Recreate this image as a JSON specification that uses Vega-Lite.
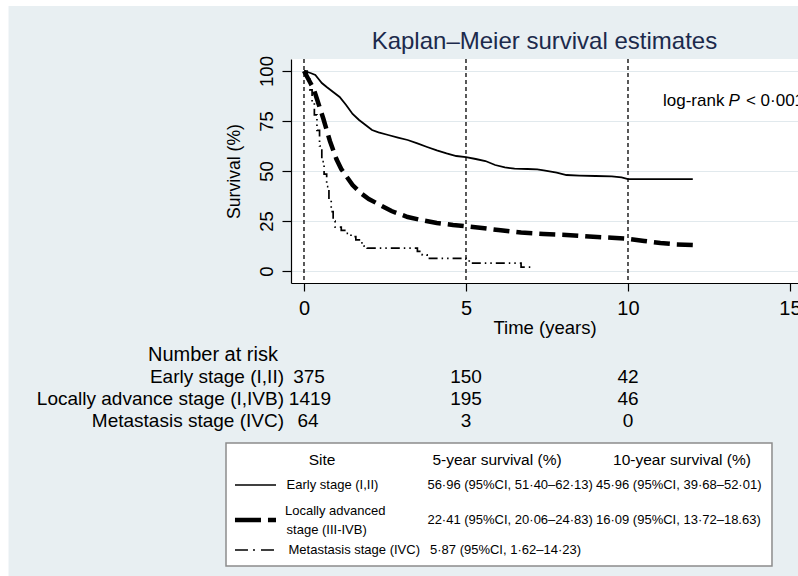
{
  "$schema": "https://vega.github.io/schema/vega-lite/v6.json",
  "width": 507,
  "height": 224,
  "autosize": {"type": "none"},
  "padding": {"left": 291, "top": 59, "right": 0, "bottom": 293},
  "background": "#e8eff2",
  "config": {
    "view": {"fill": "white", "stroke": null},
    "font": "Liberation Sans",
    "text": {"font": "Liberation Sans", "color": "black"}
  },
  "datasets": {
    "km": [
      {"stage": "Early stage (I,II)", "t": 0, "s": 100},
      {"stage": "Early stage (I,II)", "t": 0.1, "s": 99.5},
      {"stage": "Early stage (I,II)", "t": 0.2, "s": 99},
      {"stage": "Early stage (I,II)", "t": 0.35, "s": 98},
      {"stage": "Early stage (I,II)", "t": 0.45, "s": 96},
      {"stage": "Early stage (I,II)", "t": 0.55, "s": 94},
      {"stage": "Early stage (I,II)", "t": 0.7, "s": 92},
      {"stage": "Early stage (I,II)", "t": 0.9, "s": 89.5},
      {"stage": "Early stage (I,II)", "t": 1.1, "s": 87},
      {"stage": "Early stage (I,II)", "t": 1.3, "s": 83},
      {"stage": "Early stage (I,II)", "t": 1.5, "s": 78.5},
      {"stage": "Early stage (I,II)", "t": 1.7, "s": 75.5},
      {"stage": "Early stage (I,II)", "t": 1.9, "s": 73},
      {"stage": "Early stage (I,II)", "t": 2.1, "s": 70.5},
      {"stage": "Early stage (I,II)", "t": 2.3, "s": 69.3},
      {"stage": "Early stage (I,II)", "t": 2.6, "s": 68},
      {"stage": "Early stage (I,II)", "t": 2.9, "s": 66.7},
      {"stage": "Early stage (I,II)", "t": 3.2, "s": 65.5},
      {"stage": "Early stage (I,II)", "t": 3.5, "s": 63.8},
      {"stage": "Early stage (I,II)", "t": 3.8, "s": 62},
      {"stage": "Early stage (I,II)", "t": 4.1, "s": 60.3},
      {"stage": "Early stage (I,II)", "t": 4.4, "s": 58.8},
      {"stage": "Early stage (I,II)", "t": 4.7, "s": 57.5},
      {"stage": "Early stage (I,II)", "t": 5.0, "s": 56.96},
      {"stage": "Early stage (I,II)", "t": 5.3, "s": 56},
      {"stage": "Early stage (I,II)", "t": 5.6, "s": 55},
      {"stage": "Early stage (I,II)", "t": 5.9, "s": 53},
      {"stage": "Early stage (I,II)", "t": 6.2, "s": 51.8},
      {"stage": "Early stage (I,II)", "t": 6.5, "s": 51.2},
      {"stage": "Early stage (I,II)", "t": 6.9, "s": 51},
      {"stage": "Early stage (I,II)", "t": 7.2, "s": 50.8},
      {"stage": "Early stage (I,II)", "t": 7.4, "s": 50.3},
      {"stage": "Early stage (I,II)", "t": 7.8, "s": 49.2},
      {"stage": "Early stage (I,II)", "t": 8.1, "s": 48},
      {"stage": "Early stage (I,II)", "t": 8.5, "s": 47.7},
      {"stage": "Early stage (I,II)", "t": 9.0, "s": 47.5},
      {"stage": "Early stage (I,II)", "t": 9.5, "s": 47.3},
      {"stage": "Early stage (I,II)", "t": 9.8, "s": 46.8},
      {"stage": "Early stage (I,II)", "t": 10.0, "s": 45.96},
      {"stage": "Early stage (I,II)", "t": 11.0, "s": 45.96},
      {"stage": "Early stage (I,II)", "t": 12.0, "s": 45.96},
      {"stage": "Locally advanced stage (III-IVB)", "t": 0, "s": 100},
      {"stage": "Locally advanced stage (III-IVB)", "t": 0.1, "s": 97},
      {"stage": "Locally advanced stage (III-IVB)", "t": 0.2, "s": 94},
      {"stage": "Locally advanced stage (III-IVB)", "t": 0.3, "s": 91},
      {"stage": "Locally advanced stage (III-IVB)", "t": 0.4, "s": 86},
      {"stage": "Locally advanced stage (III-IVB)", "t": 0.5, "s": 81},
      {"stage": "Locally advanced stage (III-IVB)", "t": 0.6, "s": 76},
      {"stage": "Locally advanced stage (III-IVB)", "t": 0.7, "s": 70.5},
      {"stage": "Locally advanced stage (III-IVB)", "t": 0.8, "s": 65},
      {"stage": "Locally advanced stage (III-IVB)", "t": 0.9, "s": 60.5},
      {"stage": "Locally advanced stage (III-IVB)", "t": 1.0, "s": 56},
      {"stage": "Locally advanced stage (III-IVB)", "t": 1.15, "s": 51},
      {"stage": "Locally advanced stage (III-IVB)", "t": 1.3, "s": 47.5},
      {"stage": "Locally advanced stage (III-IVB)", "t": 1.5, "s": 43},
      {"stage": "Locally advanced stage (III-IVB)", "t": 1.75, "s": 39},
      {"stage": "Locally advanced stage (III-IVB)", "t": 2.0, "s": 36},
      {"stage": "Locally advanced stage (III-IVB)", "t": 2.35, "s": 33},
      {"stage": "Locally advanced stage (III-IVB)", "t": 2.7, "s": 30},
      {"stage": "Locally advanced stage (III-IVB)", "t": 3.2, "s": 27},
      {"stage": "Locally advanced stage (III-IVB)", "t": 3.7, "s": 25.2},
      {"stage": "Locally advanced stage (III-IVB)", "t": 4.1, "s": 24},
      {"stage": "Locally advanced stage (III-IVB)", "t": 4.6, "s": 23},
      {"stage": "Locally advanced stage (III-IVB)", "t": 5.0, "s": 22.41},
      {"stage": "Locally advanced stage (III-IVB)", "t": 5.5, "s": 21.5},
      {"stage": "Locally advanced stage (III-IVB)", "t": 6.0, "s": 20.5},
      {"stage": "Locally advanced stage (III-IVB)", "t": 6.7, "s": 19.2},
      {"stage": "Locally advanced stage (III-IVB)", "t": 7.4, "s": 18.5},
      {"stage": "Locally advanced stage (III-IVB)", "t": 8.1, "s": 18},
      {"stage": "Locally advanced stage (III-IVB)", "t": 8.8, "s": 17.2},
      {"stage": "Locally advanced stage (III-IVB)", "t": 9.5, "s": 16.6},
      {"stage": "Locally advanced stage (III-IVB)", "t": 10.0, "s": 16.09},
      {"stage": "Locally advanced stage (III-IVB)", "t": 10.5, "s": 15},
      {"stage": "Locally advanced stage (III-IVB)", "t": 11.0, "s": 14},
      {"stage": "Locally advanced stage (III-IVB)", "t": 11.5, "s": 13.3},
      {"stage": "Locally advanced stage (III-IVB)", "t": 12.0, "s": 13},
      {"stage": "Metastasis stage (IVC)", "t": 0, "s": 100},
      {"stage": "Metastasis stage (IVC)", "t": 0.1, "s": 96.9},
      {"stage": "Metastasis stage (IVC)", "t": 0.18, "s": 90.6},
      {"stage": "Metastasis stage (IVC)", "t": 0.25, "s": 84.4},
      {"stage": "Metastasis stage (IVC)", "t": 0.32, "s": 78.1},
      {"stage": "Metastasis stage (IVC)", "t": 0.4, "s": 70.3},
      {"stage": "Metastasis stage (IVC)", "t": 0.48, "s": 62.5},
      {"stage": "Metastasis stage (IVC)", "t": 0.55, "s": 54.7},
      {"stage": "Metastasis stage (IVC)", "t": 0.62, "s": 48.4},
      {"stage": "Metastasis stage (IVC)", "t": 0.7, "s": 42.2},
      {"stage": "Metastasis stage (IVC)", "t": 0.77, "s": 35.9},
      {"stage": "Metastasis stage (IVC)", "t": 0.84, "s": 29.7},
      {"stage": "Metastasis stage (IVC)", "t": 0.9, "s": 25},
      {"stage": "Metastasis stage (IVC)", "t": 0.96, "s": 21.9},
      {"stage": "Metastasis stage (IVC)", "t": 1.15, "s": 20.3},
      {"stage": "Metastasis stage (IVC)", "t": 1.3, "s": 18.8},
      {"stage": "Metastasis stage (IVC)", "t": 1.45, "s": 17.2},
      {"stage": "Metastasis stage (IVC)", "t": 1.6, "s": 15.6},
      {"stage": "Metastasis stage (IVC)", "t": 1.75, "s": 14.1},
      {"stage": "Metastasis stage (IVC)", "t": 1.85, "s": 12.5},
      {"stage": "Metastasis stage (IVC)", "t": 1.95, "s": 11.4},
      {"stage": "Metastasis stage (IVC)", "t": 3.5, "s": 9.8},
      {"stage": "Metastasis stage (IVC)", "t": 3.65, "s": 8.1},
      {"stage": "Metastasis stage (IVC)", "t": 3.8, "s": 6.3},
      {"stage": "Metastasis stage (IVC)", "t": 5.0, "s": 5.87},
      {"stage": "Metastasis stage (IVC)", "t": 5.1, "s": 3.9},
      {"stage": "Metastasis stage (IVC)", "t": 6.7, "s": 1.9},
      {"stage": "Metastasis stage (IVC)", "t": 7.1, "s": 1.9}
    ],
    "atrisk": [
      {"stage": "Early stage (I,II)", "t": 0, "n": 375},
      {"stage": "Early stage (I,II)", "t": 5, "n": 150},
      {"stage": "Early stage (I,II)", "t": 10, "n": 42},
      {"stage": "Locally advance stage (I,IVB)", "t": 0, "n": 1419},
      {"stage": "Locally advance stage (I,IVB)", "t": 5, "n": 195},
      {"stage": "Locally advance stage (I,IVB)", "t": 10, "n": 46},
      {"stage": "Metastasis stage (IVC)", "t": 0, "n": 64},
      {"stage": "Metastasis stage (IVC)", "t": 5, "n": 3},
      {"stage": "Metastasis stage (IVC)", "t": 10, "n": 0}
    ],
    "surv": [
      {"stage": "Early stage (I,II)", "y5": "56·96 (95%CI, 51·40–62·13)", "y10": "45·96 (95%CI, 39·68–52·01)"},
      {"stage": "Locally advanced stage (III-IVB)", "y5": "22·41 (95%CI, 20·06–24·83)", "y10": "16·09 (95%CI, 13·72–18.63)"},
      {"stage": "Metastasis stage (IVC)", "y5": "5·87 (95%CI, 1·62–14·23)", "y10": ""}
    ]
  },
  "data": {"values": [{}]},
  "layer": [
    {
      "data": {"name": "km"},
      "transform": [{"filter": "datum.stage == 'Early stage (I,II)'"}],
      "mark": {"type": "line", "color": "black", "strokeWidth": 1.8},
      "encoding": {
        "x": {
          "field": "t", "type": "quantitative",
          "scale": {"domain": [-0.401, 15.247], "nice": false, "zero": false},
          "axis": {
            "values": [0, 5, 10, 15], "title": "Time (years)",
            "grid": false,
            "domainColor": "black", "domainWidth": 1.2,
            "tickColor": "black", "tickWidth": 1.2, "tickSize": 8,
            "labelFontSize": 20, "labelPadding": 7, "labelColor": "black",
            "labelFlush": false,
            "titleFontSize": 18.5, "titleFontWeight": "normal",
            "titleColor": "black", "titlePadding": 0
          }
        },
        "y": {
          "field": "s", "type": "quantitative",
          "scale": {"domain": [-6, 106], "nice": false, "zero": false},
          "axis": {
            "values": [0, 25, 50, 75, 100], "title": "Survival (%)",
            "grid": true, "gridColor": "#e1e9ed", "gridWidth": 1,
            "domainColor": "black", "domainWidth": 1.2,
            "tickColor": "black", "tickWidth": 1.2, "tickSize": 9,
            "labelAngle": -90, "labelAlign": "center", "labelBaseline": "bottom",
            "labelFontSize": 18.5, "labelPadding": 6, "labelColor": "black",
            "titleFontSize": 17.6, "titleFontWeight": "normal",
            "titleColor": "black", "titlePadding": 14
          }
        }
      }
    },
    {
      "data": {"name": "atrisk"},
      "transform": [{"filter": "datum.stage == 'Early stage (I,II)'"}],
      "mark": {"type": "rule", "color": "black", "strokeWidth": 1.3, "strokeDash": [4, 3]},
      "encoding": {
        "x": {"field": "t", "type": "quantitative"}
      }
    },
    {
      "data": {"name": "km"},
      "transform": [{"filter": "datum.stage == 'Locally advanced stage (III-IVB)'"}],
      "mark": {"type": "line", "color": "black", "strokeWidth": 4.5, "strokeDash": [16, 7]},
      "encoding": {
        "x": {"field": "t", "type": "quantitative"},
        "y": {"field": "s", "type": "quantitative"}
      }
    },
    {
      "data": {"name": "km"},
      "transform": [{"filter": "datum.stage == 'Metastasis stage (IVC)'"}],
      "mark": {"type": "line", "color": "black", "strokeWidth": 1.7, "strokeDash": [9, 4, 1.5, 4, 1.5, 4], "interpolate": "step-after"},
      "encoding": {
        "x": {"field": "t", "type": "quantitative"},
        "y": {"field": "s", "type": "quantitative"}
      }
    },
    {
      "mark": {"type": "rect", "fill": "white"},
      "encoding": {
        "x": {"datum": -9.6, "type": "quantitative"},
        "x2": {"datum": -9.12},
        "y": {"datum": -153, "type": "quantitative"},
        "y2": {"datum": 136}
      }
    },
    {
      "mark": {"type": "rect", "fill": "white"},
      "encoding": {
        "x": {"datum": -9.6, "type": "quantitative"},
        "x2": {"datum": 15.3},
        "y": {"datum": 132.5, "type": "quantitative"},
        "y2": {"datum": 136}
      }
    },
    {
      "mark": {"type": "text", "text": "Kaplan–Meier survival estimates", "align": "center", "baseline": "middle", "fontSize": 24, "color": "#1c2a4c"},
      "encoding": {
        "x": {"datum": 7.42, "type": "quantitative"},
        "y": {"datum": 114.5, "type": "quantitative"}
      }
    },
    {
      "mark": {"type": "text", "text": "log-rank", "align": "left", "baseline": "middle", "fontSize": 17},
      "encoding": {
        "x": {"datum": 11.08, "type": "quantitative"},
        "y": {"datum": 85, "type": "quantitative"}
      }
    },
    {
      "mark": {"type": "text", "text": "P", "align": "left", "baseline": "middle", "fontSize": 17, "fontStyle": "italic"},
      "encoding": {
        "x": {"datum": 13.1, "type": "quantitative"},
        "y": {"datum": 85, "type": "quantitative"}
      }
    },
    {
      "mark": {"type": "text", "text": "< 0·001", "align": "left", "baseline": "middle", "fontSize": 17},
      "encoding": {
        "x": {"datum": 13.64, "type": "quantitative"},
        "y": {"datum": 85, "type": "quantitative"}
      }
    },
    {
      "mark": {"type": "text", "text": "Number at risk", "align": "center", "baseline": "middle", "fontSize": 20},
      "encoding": {
        "x": {"datum": -2.81, "type": "quantitative"},
        "y": {"datum": -42, "type": "quantitative"}
      }
    },
    {
      "data": {"name": "atrisk"},
      "transform": [{"filter": "datum.stage == 'Early stage (I,II)' && datum.t == 0"}],
      "mark": {"type": "text", "align": "right", "baseline": "middle", "fontSize": 19},
      "encoding": {
        "x": {"datum": -0.617, "type": "quantitative"},
        "y": {"datum": -53, "type": "quantitative"},
        "text": {"field": "stage"}
      }
    },
    {
      "data": {"name": "atrisk"},
      "transform": [{"filter": "datum.stage == 'Locally advance stage (I,IVB)' && datum.t == 0"}],
      "mark": {"type": "text", "align": "right", "baseline": "middle", "fontSize": 19},
      "encoding": {
        "x": {"datum": -0.617, "type": "quantitative"},
        "y": {"datum": -64, "type": "quantitative"},
        "text": {"field": "stage"}
      }
    },
    {
      "data": {"name": "atrisk"},
      "transform": [{"filter": "datum.stage == 'Metastasis stage (IVC)' && datum.t == 0"}],
      "mark": {"type": "text", "align": "right", "baseline": "middle", "fontSize": 19},
      "encoding": {
        "x": {"datum": -0.617, "type": "quantitative"},
        "y": {"datum": -75, "type": "quantitative"},
        "text": {"field": "stage"}
      }
    },
    {
      "data": {"name": "atrisk"},
      "transform": [{"filter": "datum.stage == 'Early stage (I,II)'"}],
      "mark": {"type": "text", "align": "center", "baseline": "middle", "fontSize": 19, "dx": {"expr": "datum.t == 0 ? 5 : 0"}},
      "encoding": {
        "x": {"field": "t", "type": "quantitative"},
        "y": {"datum": -53, "type": "quantitative"},
        "text": {"field": "n"}
      }
    },
    {
      "data": {"name": "atrisk"},
      "transform": [{"filter": "datum.stage == 'Locally advance stage (I,IVB)'"}],
      "mark": {"type": "text", "align": "center", "baseline": "middle", "fontSize": 19, "dx": {"expr": "datum.t == 0 ? 6 : 0"}},
      "encoding": {
        "x": {"field": "t", "type": "quantitative"},
        "y": {"datum": -64, "type": "quantitative"},
        "text": {"field": "n"}
      }
    },
    {
      "data": {"name": "atrisk"},
      "transform": [{"filter": "datum.stage == 'Metastasis stage (IVC)'"}],
      "mark": {"type": "text", "align": "center", "baseline": "middle", "fontSize": 19, "dx": {"expr": "datum.t == 0 ? 4 : 0"}},
      "encoding": {
        "x": {"field": "t", "type": "quantitative"},
        "y": {"datum": -75, "type": "quantitative"},
        "text": {"field": "n"}
      }
    },
    {
      "mark": {"type": "rect", "fill": "white", "stroke": "#8c8c8c", "strokeWidth": 1.5},
      "encoding": {
        "x": {"datum": -2.407, "type": "quantitative"},
        "x2": {"datum": 14.444},
        "y": {"datum": -86, "type": "quantitative"},
        "y2": {"datum": -147.5}
      }
    },
    {
      "mark": {"type": "text", "text": "Site", "align": "center", "baseline": "middle", "fontSize": 15.5},
      "encoding": {
        "x": {"datum": 0.556, "type": "quantitative"},
        "y": {"datum": -94.5, "type": "quantitative"}
      }
    },
    {
      "mark": {"type": "text", "text": "5-year survival (%)", "align": "center", "baseline": "middle", "fontSize": 15.5},
      "encoding": {
        "x": {"datum": 5.957, "type": "quantitative"},
        "y": {"datum": -94.5, "type": "quantitative"}
      }
    },
    {
      "mark": {"type": "text", "text": "10-year survival (%)", "align": "center", "baseline": "middle", "fontSize": 15.5},
      "encoding": {
        "x": {"datum": 11.667, "type": "quantitative"},
        "y": {"datum": -94.5, "type": "quantitative"}
      }
    },
    {
      "mark": {"type": "rule", "color": "black", "strokeWidth": 1.6},
      "encoding": {
        "x": {"datum": -2.13, "type": "quantitative"},
        "x2": {"datum": -0.864},
        "y": {"datum": -107, "type": "quantitative"}
      }
    },
    {
      "mark": {"type": "rule", "color": "black", "strokeWidth": 4.5, "strokeDash": [26, 7]},
      "encoding": {
        "x": {"datum": -2.13, "type": "quantitative"},
        "x2": {"datum": -0.864},
        "y": {"datum": -124.5, "type": "quantitative"}
      }
    },
    {
      "mark": {"type": "rule", "color": "black", "strokeWidth": 1.6, "strokeDash": [13, 5, 2, 6]},
      "encoding": {
        "x": {"datum": -2.13, "type": "quantitative"},
        "x2": {"datum": -0.864},
        "y": {"datum": -139.5, "type": "quantitative"}
      }
    },
    {
      "data": {"name": "surv"},
      "transform": [{"filter": "datum.stage == 'Early stage (I,II)'"}],
      "mark": {"type": "text", "align": "left", "baseline": "middle", "fontSize": 13},
      "encoding": {
        "x": {"datum": -0.537, "type": "quantitative"},
        "y": {"datum": -107, "type": "quantitative"},
        "text": {"field": "stage"}
      }
    },
    {
      "mark": {"type": "text", "text": "Locally advanced", "align": "left", "baseline": "middle", "fontSize": 13},
      "encoding": {
        "x": {"datum": -0.586, "type": "quantitative"},
        "y": {"datum": -120, "type": "quantitative"}
      }
    },
    {
      "mark": {"type": "text", "text": "stage (III-IVB)", "align": "left", "baseline": "middle", "fontSize": 13},
      "encoding": {
        "x": {"datum": -0.537, "type": "quantitative"},
        "y": {"datum": -129.5, "type": "quantitative"}
      }
    },
    {
      "data": {"name": "surv"},
      "transform": [{"filter": "datum.stage == 'Metastasis stage (IVC)'"}],
      "mark": {"type": "text", "align": "left", "baseline": "middle", "fontSize": 13},
      "encoding": {
        "x": {"datum": -0.478, "type": "quantitative"},
        "y": {"datum": -139.5, "type": "quantitative"},
        "text": {"field": "stage"}
      }
    },
    {
      "data": {"name": "surv"},
      "transform": [{"filter": "datum.stage == 'Early stage (I,II)'"}],
      "mark": {"type": "text", "align": "left", "baseline": "middle", "fontSize": 13},
      "encoding": {
        "x": {"datum": 3.809, "type": "quantitative"},
        "y": {"datum": -107, "type": "quantitative"},
        "text": {"field": "y5"}
      }
    },
    {
      "data": {"name": "surv"},
      "transform": [{"filter": "datum.stage == 'Early stage (I,II)'"}],
      "mark": {"type": "text", "align": "left", "baseline": "middle", "fontSize": 13},
      "encoding": {
        "x": {"datum": 9.012, "type": "quantitative"},
        "y": {"datum": -107, "type": "quantitative"},
        "text": {"field": "y10"}
      }
    },
    {
      "data": {"name": "surv"},
      "transform": [{"filter": "datum.stage == 'Locally advanced stage (III-IVB)'"}],
      "mark": {"type": "text", "align": "left", "baseline": "middle", "fontSize": 13},
      "encoding": {
        "x": {"datum": 3.809, "type": "quantitative"},
        "y": {"datum": -124.5, "type": "quantitative"},
        "text": {"field": "y5"}
      }
    },
    {
      "data": {"name": "surv"},
      "transform": [{"filter": "datum.stage == 'Locally advanced stage (III-IVB)'"}],
      "mark": {"type": "text", "align": "left", "baseline": "middle", "fontSize": 13},
      "encoding": {
        "x": {"datum": 9.012, "type": "quantitative"},
        "y": {"datum": -124.5, "type": "quantitative"},
        "text": {"field": "y10"}
      }
    },
    {
      "data": {"name": "surv"},
      "transform": [{"filter": "datum.stage == 'Metastasis stage (IVC)'"}],
      "mark": {"type": "text", "align": "left", "baseline": "middle", "fontSize": 13},
      "encoding": {
        "x": {"datum": 3.889, "type": "quantitative"},
        "y": {"datum": -139.5, "type": "quantitative"},
        "text": {"field": "y5"}
      }
    }
  ]
}
